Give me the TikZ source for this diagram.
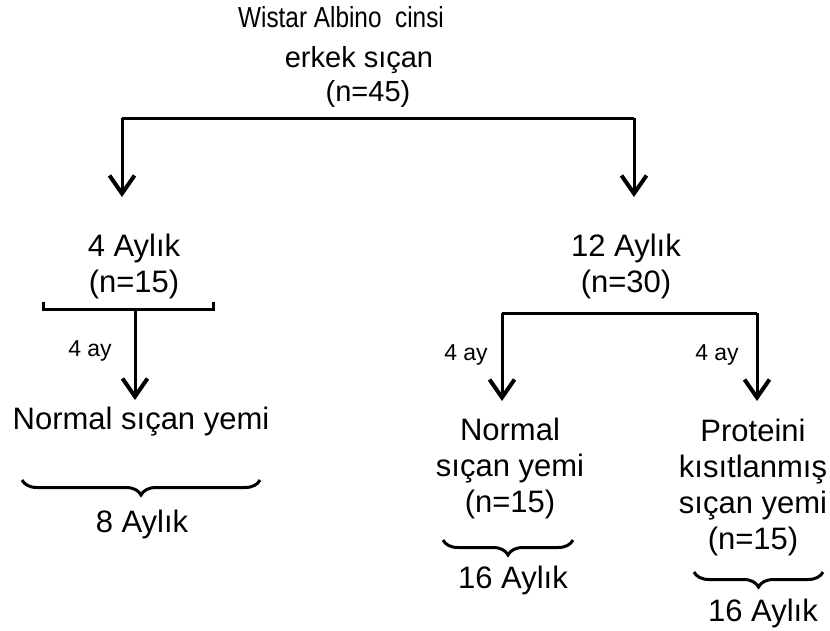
\documentclass[tikz,border=0pt]{standalone}
\usepackage{fontspec}
\setmainfont{Liberation Sans}
\usetikzlibrary{arrows.meta, positioning, decorations.pathreplacing}

\begin{document}
\begin{tikzpicture}[x=1pt, y=-1pt,
  lbl/.style={font=\fontsize{31}{36}\selectfont, align=center, inner sep=0pt},
  head/.style={font=\fontsize{29}{34}\selectfont, inner sep=0pt, anchor=base},
  small/.style={font=\fontsize{23}{26}\selectfont, inner sep=0pt},
  bar/.style={line width=3pt},
  arr/.style={line width=3pt, -{Straight Barb[length=18pt,width=25pt,line width=4pt]}},
  brc/.style={line width=3pt, decorate, decoration={brace, amplitude=15pt, aspect=0.5, mirror}}]
\useasboundingbox (0,0) rectangle (830,630);

% kok
\node[head] (W1) at (341,27) {\scalebox{0.84}[1]{Wistar Albino\ \ cinsi}};
\node[head] (W2) at (359,67) {erkek sıçan};
\node[head] (W3) at (368,101) {(n=45)};

\coordinate (tl) at (122,118);
\coordinate (tr) at (634,118);
\coordinate (tlend) at (122,197);
\coordinate (trend) at (634,197);
\draw[bar] (tl) -- (tr);
\path[arr] (tl) edge (tlend);
\path[arr] (tr) edge (trend);

% 4 aylik kol
\node[lbl] (A4) at (134,266) {4 Aylık\\(n=15)};
\coordinate (L1) at (43,302);
\coordinate (L2) at (43,309);
\coordinate (L3) at (213,309);
\coordinate (L4) at (213,302);
\coordinate (Lm) at (135,309);
\coordinate (Lend) at (135,400);
\draw[bar] (L1) -- (L2) -- (L3) -- (L4);
\path[arr] (Lm) edge (Lend);
\node[small] (ay1) at (90,351) {4 ay};
\node[lbl] (NY1) at (141,422) {Normal sıçan yemi};
\coordinate (B1a) at (22,480);
\coordinate (B1b) at (260,480);
\draw[brc] (B1a) -- (B1b);
\node[lbl] (S8) at (142,524) {8 Aylık};

% 12 aylik kol
\node[lbl] (A12) at (626,266) {12 Aylık\\(n=30)};
\coordinate (R1) at (502,313);
\coordinate (R2) at (757,313);
\coordinate (R1end) at (502,401);
\coordinate (R2end) at (757,401);
\draw[bar] (R1) -- (R2);
\path[arr] (R1) edge (R1end);
\path[arr] (R2) edge (R2end);
\node[small] (ay2) at (466,355) {4 ay};
\node[small] (ay3) at (717,355) {4 ay};

\node[lbl] (NY2) at (510,468) {Normal\\sıçan yemi\\(n=15)};
\coordinate (B2a) at (443,540);
\coordinate (B2b) at (573,540);
\draw[brc] (B2a) -- (B2b);
\node[lbl] (S16a) at (513,580) {16 Aylık};

\node[lbl] (PY) at (753,487) {Proteini\\kısıtlanmış\\sıçan yemi\\(n=15)};
\coordinate (B3a) at (694,572);
\coordinate (B3b) at (823,572);
\draw[brc] (B3a) -- (B3b);
\node[lbl] (S16b) at (763,613) {16 Aylık};
\end{tikzpicture}
\end{document}
